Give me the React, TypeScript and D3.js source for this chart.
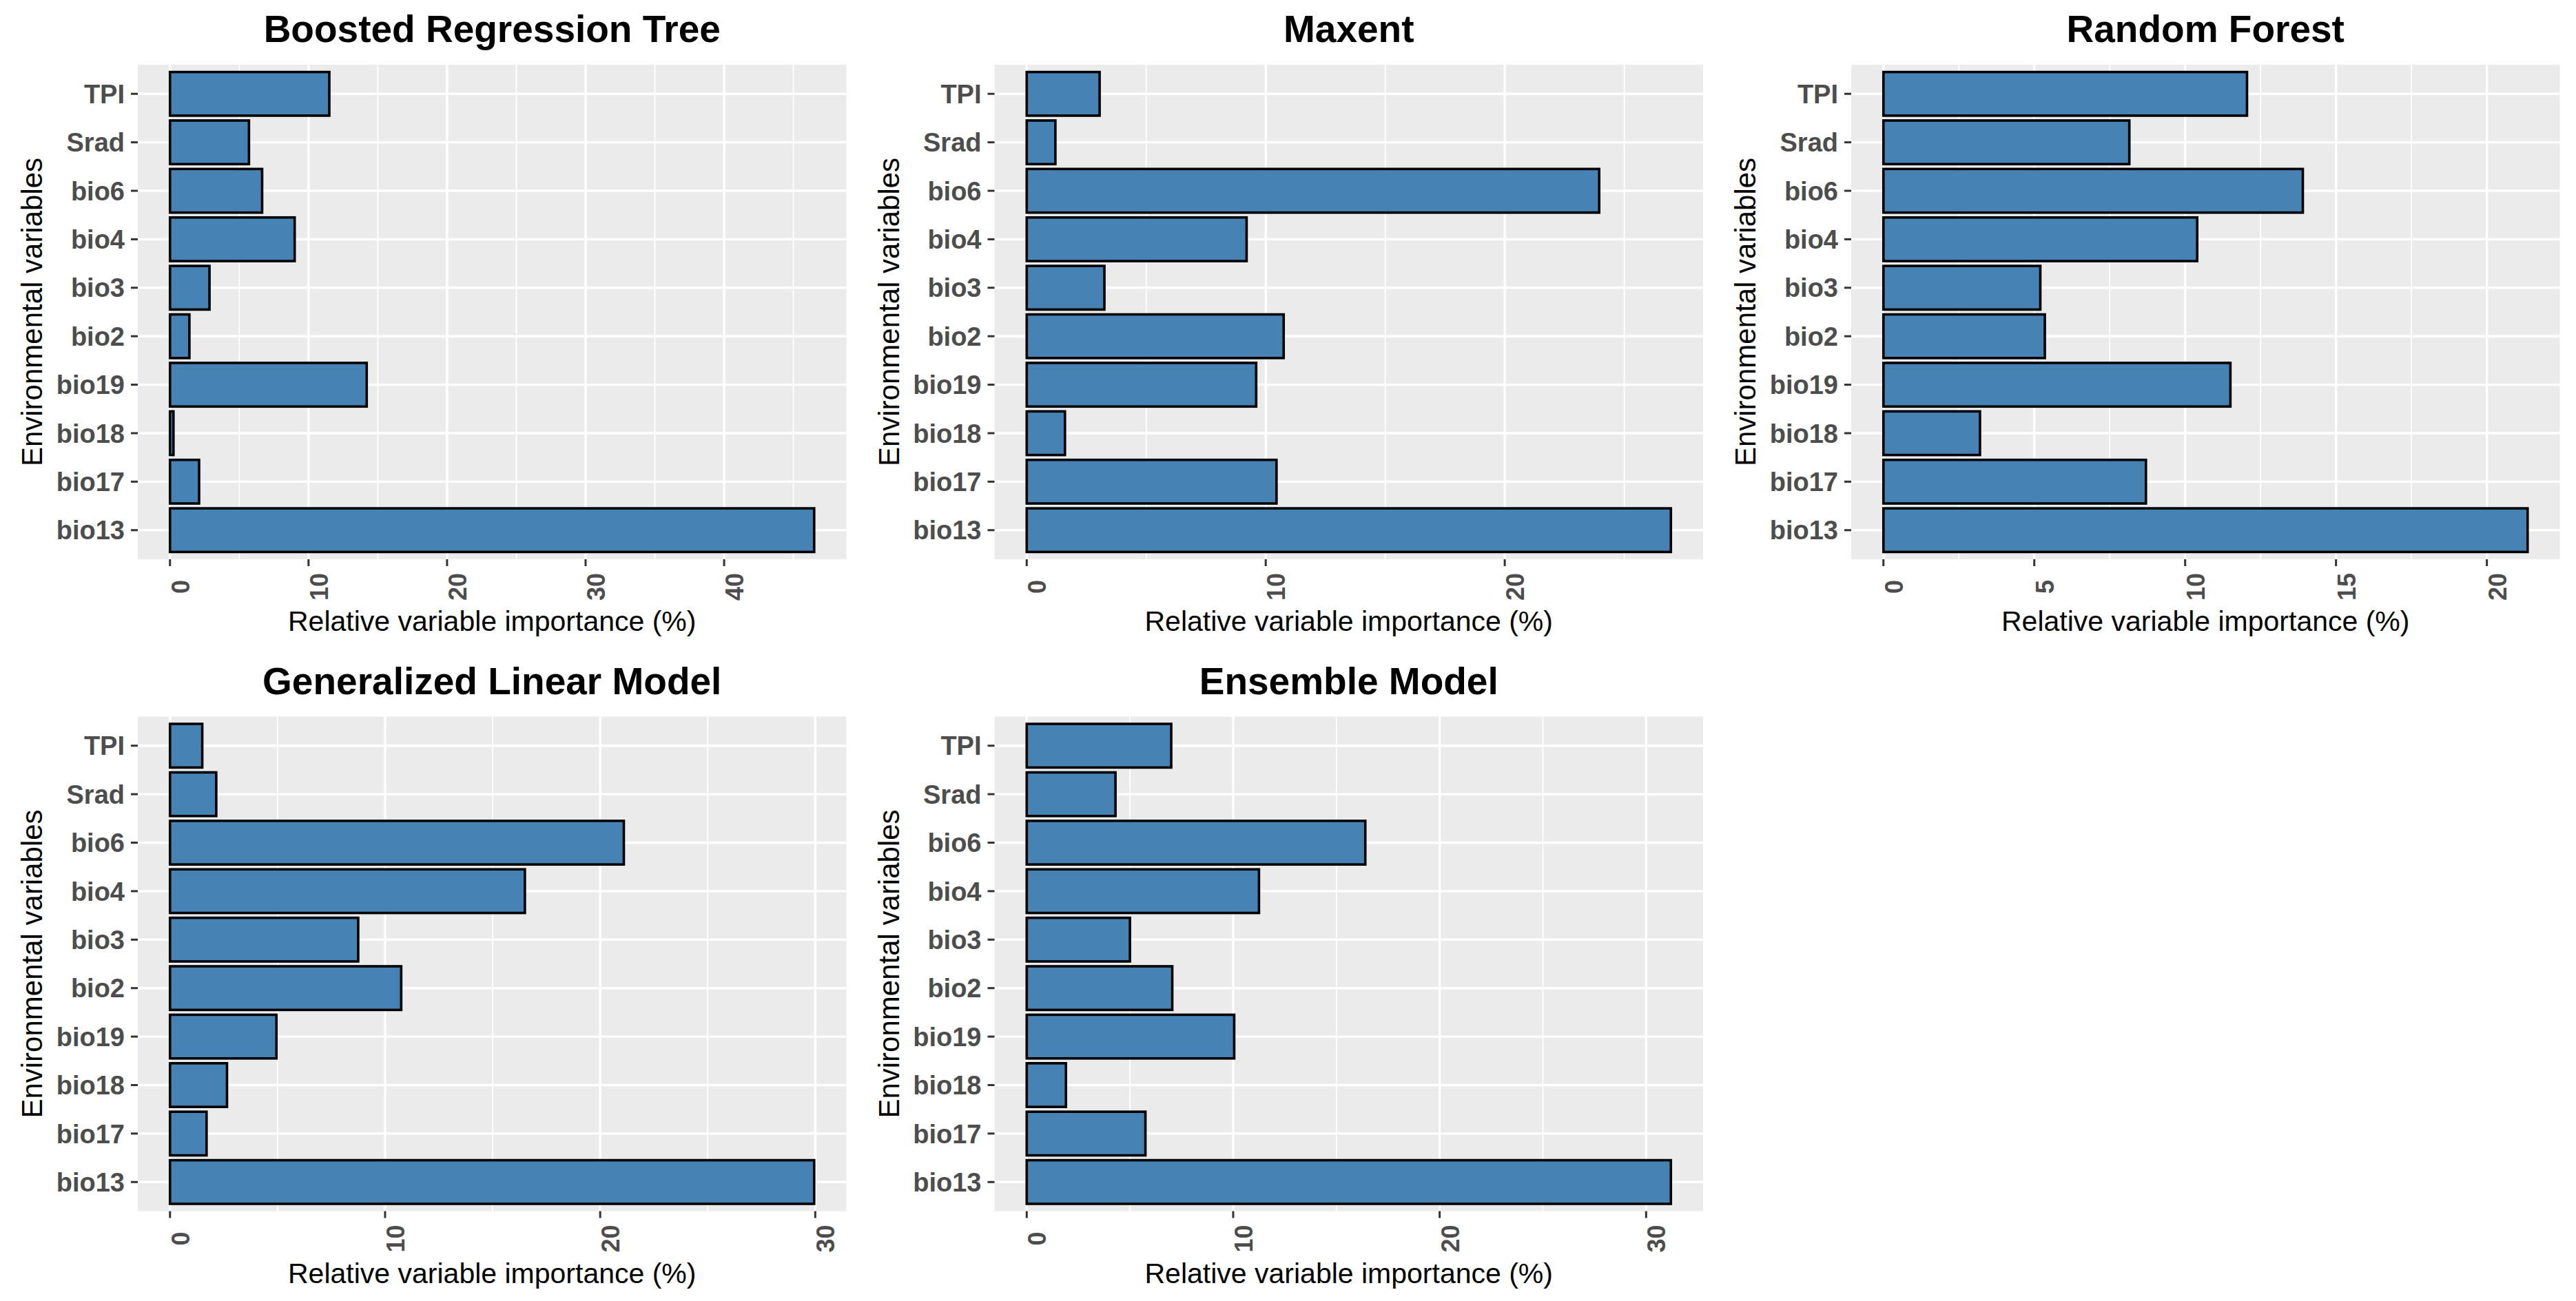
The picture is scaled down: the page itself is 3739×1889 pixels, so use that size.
import React from 'react';
import * as d3 from 'd3';

// variables, top to bottom as drawn
const variables = ['TPI', 'Srad', 'bio6', 'bio4', 'bio3', 'bio2', 'bio19', 'bio18', 'bio17', 'bio13'];

// relative variable importance (%)
const brtValues = [11.5, 5.7, 6.65, 9.0, 2.85, 1.4, 14.2, 0.25, 2.1, 46.5];
const maxentValues = [3.05, 1.2, 23.95, 9.2, 3.25, 10.75, 9.6, 1.6, 10.45, 26.95];
const rfValues = [12.05, 8.15, 13.9, 10.4, 5.2, 5.35, 11.5, 3.2, 8.7, 21.35];
const glmValues = [1.5, 2.15, 21.1, 16.5, 8.75, 10.75, 4.95, 2.65, 1.7, 29.95];
const ensembleValues = [7.0, 4.3, 16.4, 11.25, 5.0, 7.05, 10.05, 1.9, 5.75, 31.2];

const brtTicks = [0, 10, 20, 30, 40];
const maxentTicks = [0, 10, 20];
const rfTicks = [0, 5, 10, 15, 20];
const glmTicks = [0, 10, 20, 30];
const ensembleTicks = [0, 10, 20, 30];

const titles = ['Boosted Regression Tree', 'Maxent', 'Random Forest', 'Generalized Linear Model', 'Ensemble Model'];

const W = 3739;
const H = 1889;
const COL = 1243.5;
const ROW = 946.5;
const FONT = '"Liberation Sans", Arial, Helvetica, sans-serif';

const left = 200;
const right = 1228.5;
const top = 94;
const bottom = 812;

interface PanelProps {
  title: string;
  values: number[];
  ticks: number[];
  dx: number;
  dy: number;
}

function Panel({ title, values, ticks, dx, dy }: PanelProps) {
  const max = d3.max(values) as number;
  const x = d3
    .scaleLinear()
    .domain([-0.05 * max, 1.05 * max])
    .range([left, right]);
  const y = d3.scalePoint<string>().domain(variables).range([top, bottom]).padding(0.6);
  const barH = y.step() * 0.9;

  const step = ticks[1] - ticks[0];
  const [d0, d1] = x.domain();
  const minor = [ticks[0] - step / 2, ...ticks.map(t => t + step / 2)].filter(m => m > d0 && m < d1);
  const cx = (left + right) / 2;

  return (
    <g transform={`translate(${dx},${dy})`}>
      <text x={cx} y={61} textAnchor="middle" fontFamily={FONT} fontWeight="bold" fontSize={55} fill="#000">
        {title}
      </text>
      <rect x={left} y={top} width={right - left} height={bottom - top} fill="#EBEBEB" />
      {minor.map(m => (
        <line key={'mi' + m} x1={x(m)} x2={x(m)} y1={top} y2={bottom} stroke="#fff" strokeWidth={1.8} />
      ))}
      {ticks.map(t => (
        <line key={'ma' + t} x1={x(t)} x2={x(t)} y1={top} y2={bottom} stroke="#fff" strokeWidth={3.4} />
      ))}
      {variables.map(v => (
        <line key={'h' + v} x1={left} x2={right} y1={y(v)} y2={y(v)} stroke="#fff" strokeWidth={3.4} />
      ))}
      {variables.map((v, i) => (
        <rect
          key={'b' + v}
          x={x(0)}
          y={(y(v) as number) - barH / 2}
          width={x(values[i]) - x(0)}
          height={barH}
          fill="#4682B4"
          stroke="#000"
          strokeWidth={3.6}
        />
      ))}
      {variables.map(v => (
        <g key={'yt' + v}>
          <line x1={190} x2={left} y1={y(v)} y2={y(v)} stroke="#333" strokeWidth={3} />
          <text
            x={181}
            y={y(v)}
            dy="0.36em"
            textAnchor="end"
            fontFamily={FONT}
            fontWeight="bold"
            fontSize={38}
            fill="#4D4D4D"
          >
            {v}
          </text>
        </g>
      ))}
      {ticks.map(t => (
        <g key={'xt' + t}>
          <line x1={x(t)} x2={x(t)} y1={bottom} y2={bottom + 10} stroke="#333" strokeWidth={3} />
          <text
            transform={`translate(${x(t) + 28},852) rotate(-90)`}
            textAnchor="middle"
            fontFamily={FONT}
            fontWeight="bold"
            fontSize={36}
            fill="#4D4D4D"
          >
            {t}
          </text>
        </g>
      ))}
      <text x={cx} y={916} textAnchor="middle" fontFamily={FONT} fontSize={41} fill="#000">
        Relative variable importance (%)
      </text>
      <text
        transform={`translate(61,${(top + bottom) / 2}) rotate(-90)`}
        textAnchor="middle"
        fontFamily={FONT}
        fontSize={42}
        fill="#000"
      >
        Environmental variables
      </text>
    </g>
  );
}

export default function App() {
  const panels = [
    { title: titles[0], values: brtValues, ticks: brtTicks, col: 0, row: 0 },
    { title: titles[1], values: maxentValues, ticks: maxentTicks, col: 1, row: 0 },
    { title: titles[2], values: rfValues, ticks: rfTicks, col: 2, row: 0 },
    { title: titles[3], values: glmValues, ticks: glmTicks, col: 0, row: 1 },
    { title: titles[4], values: ensembleValues, ticks: ensembleTicks, col: 1, row: 1 },
  ];

  return (
    <svg
      width={W}
      height={H}
      viewBox={`0 0 ${W} ${H}`}
      style={{ position: 'absolute', left: 0, top: 0, background: '#fff' }}
    >
      <rect width={W} height={H} fill="#fff" />
      {panels.map(p => (
        <Panel key={p.title} title={p.title} values={p.values} ticks={p.ticks} dx={p.col * COL} dy={p.row * ROW} />
      ))}
    </svg>
  );
}
